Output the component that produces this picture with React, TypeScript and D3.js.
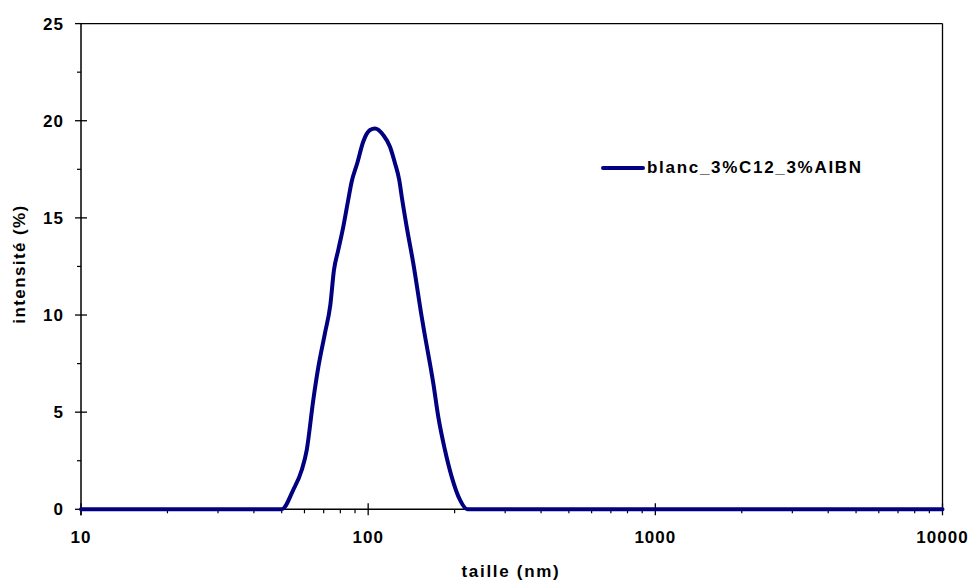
import React from "react";
import * as d3 from "d3";

const sizes = [10, 40, 45, 50.0, 54.8, 58.7, 61.1, 64.4, 67.1, 70.7, 73.8, 76.0, 78.7, 81.9, 85.2, 87.6, 91.6, 96.1, 101.5, 105.6, 112.9, 119.1, 124.0, 128.3, 130.9, 136.2, 143.6, 153.6, 157.1, 168.6, 175.4, 185.1, 195.3, 208.8, 221.3, 250, 10000];
const intensity = [0, 0, 0, 0, 0.99, 2.02, 3.05, 5.63, 7.34, 9.06, 10.5, 12.3, 13.35, 14.54, 15.92, 16.86, 17.81, 18.92, 19.52, 19.6, 19.26, 18.66, 17.81, 16.95, 16.09, 14.54, 12.66, 9.91, 9.06, 6.48, 4.77, 3.05, 1.68, 0.48, 0, 0, 0];
const seriesName = "blanc_3%C12_3%AIBN";
const xMajor = [10, 100, 1000, 10000];
const xMinorMult = [2, 3, 4, 5, 6, 7, 8, 9];
const yMajor = [0, 5, 10, 15, 20, 25];
const yMinor = [2.5, 7.5, 12.5, 17.5, 22.5];
const xTitle = "taille (nm)";
const yTitle = "intensité (%)";

const W = 973;
const H = 583;
const L = 81, R = 942.5, T = 23.6, B = 509.3;
const font = "'Liberation Sans', Arial, sans-serif";

export default function App() {
  const x = d3.scaleLog().domain([10, 10000]).range([L, R]);
  const y = d3.scaleLinear().domain([0, 25]).range([B, T]);
  const pts = sizes.map((s, i) => [s, intensity[i]] as [number, number]);
  const line = d3.line<[number, number]>().x(d => x(d[0])).y(d => y(d[1])).curve(d3.curveMonotoneX);
  const xMinor: number[] = [];
  [10, 100, 1000].forEach(d => xMinorMult.forEach(m => xMinor.push(d * m)));

  return (
    <svg width={W} height={H} style={{ position: "absolute", left: 0, top: 0, background: "#fff" }}>
      <rect x={0} y={0} width={W} height={H} fill="#fff" />
      {/* frame */}
      <line x1={L} x2={R} y1={T} y2={T} stroke="#000" strokeWidth={1.3} />
      <line x1={R} x2={R} y1={T} y2={B} stroke="#000" strokeWidth={1.3} />
      <line x1={L} x2={L} y1={T} y2={B + 6} stroke="#000" strokeWidth={1.5} />
      <line x1={L} x2={R} y1={B} y2={B} stroke="#000" strokeWidth={1.5} />
      {/* y ticks */}
      {yMajor.map(v => (
        <g key={"ym" + v}>
          <line x1={L - 6} x2={v === 25 ? L : L + 6} y1={y(v)} y2={y(v)} stroke="#000" strokeWidth={1.3} />
          <text x={64} y={y(v)} dy="0.36em" textAnchor="end" fontFamily={font} fontWeight="bold" fontSize={17} letterSpacing={1}>{v}</text>
        </g>
      ))}
      {yMinor.map(v => (
        <line key={"yn" + v} x1={L - 4} x2={L} y1={y(v)} y2={y(v)} stroke="#000" strokeWidth={1.2} />
      ))}
      {/* x ticks */}
      {xMajor.map(v => (
        <g key={"xm" + v}>
          <line x1={x(v)} x2={x(v)} y1={B - 6} y2={B + 6} stroke="#000" strokeWidth={1.3} />
          <text x={x(v)} y={542.5} textAnchor="middle" fontFamily={font} fontWeight="bold" fontSize={17} letterSpacing={1}>{v}</text>
        </g>
      ))}
      {xMinor.map(v => (
        <line key={"xn" + v} x1={x(v)} x2={x(v)} y1={B} y2={B + 4} stroke="#000" strokeWidth={1.2} />
      ))}
      {/* series */}
      <path d={line(pts) || ""} fill="none" stroke="#000080" strokeWidth={4} strokeLinejoin="round" strokeLinecap="round" />
      {/* legend */}
      <line x1={603} x2={643} y1={168} y2={168} stroke="#000080" strokeWidth={4} strokeLinecap="round" />
      <text x={647} y={172.5} fontFamily={font} fontWeight="bold" fontSize={17} letterSpacing={1.7}>{seriesName}</text>
      {/* axis titles */}
      <text x={511} y={576.5} textAnchor="middle" fontFamily={font} fontWeight="bold" fontSize={17} letterSpacing={1.7}>{xTitle}</text>
      <text transform={`translate(25,${264}) rotate(-90)`} textAnchor="middle" fontFamily={font} fontWeight="bold" fontSize={17} letterSpacing={1.4}>{yTitle}</text>
    </svg>
  );
}
